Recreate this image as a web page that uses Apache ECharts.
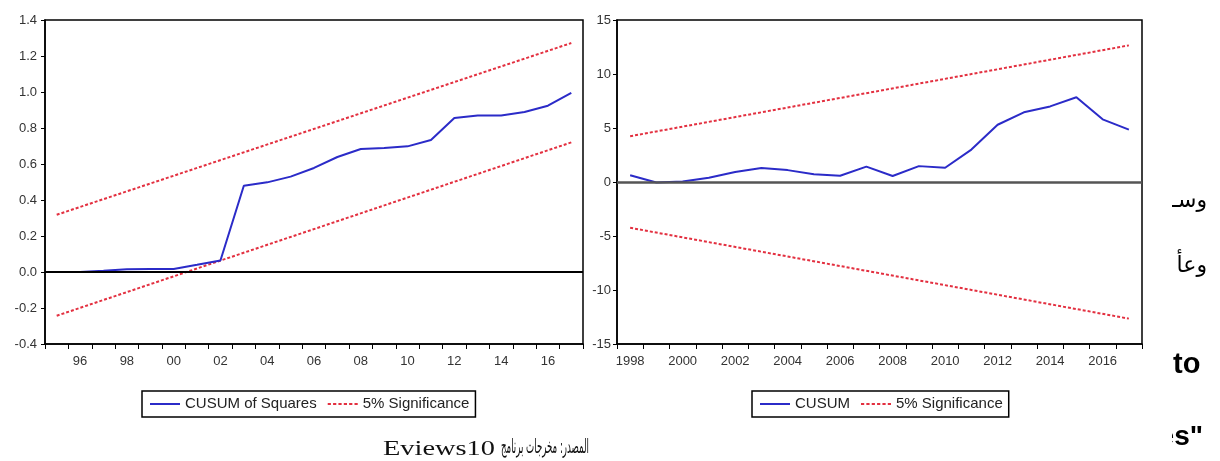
<!DOCTYPE html>
<html><head><meta charset="utf-8">
<script src="https://cdn.jsdelivr.net/npm/echarts@6.0.0/dist/echarts.min.js"></script>
<style>html,body{margin:0;padding:0;background:#fff}#c{width:1220px;height:461px}</style>
</head><body><div id="c"></div><script>
// ---- data ----
const sqYears = ['95','96','97','98','99','00','01','02','03','04','05','06','07','08','09','10','11','12','13','14','15','16','17'];
const cusumSq = [0.0,0.0,0.007,0.015,0.016,0.017,0.04,0.064,0.479,0.498,0.53,0.578,0.639,0.683,0.689,0.698,0.733,0.855,0.87,0.87,0.889,0.924,0.995];
const sqUpper = [0.318,null,null,null,null,null,null,null,null,null,null,null,null,null,null,null,null,null,null,null,null,null,1.272];
const sqLower = [-0.243,null,null,null,null,null,null,null,null,null,null,null,null,null,null,null,null,null,null,null,null,null,0.72];

const cuYears = ['1998','1999','2000','2001','2002','2003','2004','2005','2006','2007','2008','2009','2010','2011','2012','2013','2014','2015','2016','2017'];
const cusum = [0.62,-0.05,0.05,0.4,0.92,1.3,1.1,0.71,0.58,1.42,0.55,1.47,1.32,3.0,5.3,6.45,7.0,7.85,5.8,4.85];
const cuUpper = [4.24,null,null,null,null,null,null,null,null,null,null,null,null,null,null,null,null,null,null,12.65];
const cuLower = [-4.24,null,null,null,null,null,null,null,null,null,null,null,null,null,null,null,null,null,null,-12.65];

const sqTicks = {min:-0.4, max:1.4, interval:0.2};
const cuTicks = {min:-15, max:15, interval:5};

// ---- styles ----
const BLUE = '#2b2bc8', RED = '#e33040';
const labelFont = {fontFamily:'Liberation Sans', fontSize:13, color:'#333'};
const ICON_SOLID = 'path://M0,0h30v2h-30z';
const ICON_DASH = 'path://M0,0h3v2h-3z M5,0h3v2h-3z M10,0h3v2h-3z M15,0h3v2h-3z M20,0h3v2h-3z M25,0h3v2h-3z';

function fitScale(text, font, target){
  const ctx = document.createElement('canvas').getContext('2d');
  ctx.font = font;
  const w = ctx.measureText(text).width;
  return w > 0 ? target / w : 1;
}

const chart = echarts.init(document.getElementById('c'));
const capFontE = '22px "Liberation Serif"';
const capFontA = '20px "DejaVu Sans"';
const capA = 'المصدر: مخرجات برنامج';

const xAxisBase = {
  type:'category', boundaryGap:true,
  axisLine:{show:true, onZero:false, lineStyle:{color:'#000', width:1.5}},
  axisTick:{show:true, interval:0, length:5, lineStyle:{color:'#000', width:1}},
  splitLine:{show:false}
};
const yAxisBase = {
  type:'value',
  axisLine:{show:true, onZero:false, lineStyle:{color:'#000', width:1.5}},
  axisTick:{show:true, length:4, lineStyle:{color:'#000'}},
  splitLine:{show:false}
};
const zeroLine = (color, width) => ({
  silent:true, symbol:['none','none'], label:{show:false},
  lineStyle:{color:color, width:width, type:'solid'},
  emphasis:{disabled:true},
  data:[{yAxis:0}]
});
const legendBase = {
  orient:'horizontal', top:391, borderColor:'#000', borderWidth:1.5,
  padding:[5,6,5,8], itemGap:11, itemWidth:30, itemHeight:2,
  symbolKeepAspect:false, selectedMode:false,
  textStyle:{fontFamily:'Liberation Sans', fontSize:15, color:'#222', lineHeight:16}
};

chart.setOption({
  animation:false,
  backgroundColor:'#fff',
  grid:[
    {left:45, top:20, width:538, height:324, show:true, borderColor:'#000', borderWidth:1.5, backgroundColor:'transparent'},
    {left:617, top:20, width:525, height:324, show:true, borderColor:'#000', borderWidth:1.5, backgroundColor:'transparent'}
  ],
  xAxis:[
    Object.assign({}, xAxisBase, {gridIndex:0, data:sqYears,
      axisLabel:Object.assign({margin:11, interval:(i)=> i%2===1}, labelFont)}),
    Object.assign({}, xAxisBase, {gridIndex:1, data:cuYears,
      axisLabel:Object.assign({margin:11, interval:(i)=> i%2===0}, labelFont)})
  ],
  yAxis:[
    Object.assign({}, yAxisBase, {gridIndex:0, min:sqTicks.min, max:sqTicks.max, interval:sqTicks.interval,
      axisLabel:Object.assign({margin:8, formatter:(v)=>v.toFixed(1)}, labelFont)}),
    Object.assign({}, yAxisBase, {gridIndex:1, min:cuTicks.min, max:cuTicks.max, interval:cuTicks.interval,
      axisLabel:Object.assign({margin:6}, labelFont)})
  ],
  legend:[
    Object.assign({}, legendBase, {left:142, data:[
      {name:'CUSUM of Squares', icon:ICON_SOLID, itemStyle:{color:BLUE}},
      {name:'5% Significance', icon:ICON_DASH, itemStyle:{color:RED}}]}),
    Object.assign({}, legendBase, {left:752, data:[
      {name:'CUSUM', icon:ICON_SOLID, itemStyle:{color:BLUE}},
      {name:'5% Significance', icon:ICON_DASH, itemStyle:{color:RED}}]})
  ],
  series:[
    {name:'CUSUM of Squares', type:'line', xAxisIndex:0, yAxisIndex:0, data:cusumSq, symbol:'none',
      lineStyle:{color:BLUE, width:2}, itemStyle:{color:BLUE}, markLine:zeroLine('#000',2), z:3},
    {name:'5% Significance', type:'line', xAxisIndex:0, yAxisIndex:0, data:sqUpper, symbol:'none', connectNulls:true,
      lineStyle:{color:RED, width:2, type:[3,2]}, itemStyle:{color:RED}, z:2},
    {name:'5% Significance', type:'line', xAxisIndex:0, yAxisIndex:0, data:sqLower, symbol:'none', connectNulls:true,
      lineStyle:{color:RED, width:2, type:[3,2]}, itemStyle:{color:RED}, z:2},
    {name:'CUSUM', type:'line', xAxisIndex:1, yAxisIndex:1, data:cusum, symbol:'none',
      lineStyle:{color:BLUE, width:2}, itemStyle:{color:BLUE}, markLine:zeroLine('#555',2.5), z:3},
    {name:'5% Significance', type:'line', xAxisIndex:1, yAxisIndex:1, data:cuUpper, symbol:'none', connectNulls:true,
      lineStyle:{color:RED, width:2, type:[3,2]}, itemStyle:{color:RED}, z:2},
    {name:'5% Significance', type:'line', xAxisIndex:1, yAxisIndex:1, data:cuLower, symbol:'none', connectNulls:true,
      lineStyle:{color:RED, width:2, type:[3,2]}, itemStyle:{color:RED}, z:2}
  ],
  graphic:[
    {type:'text', x:383, y:449, z:100, scaleX:fitScale('Eviews10', capFontE, 112),
      style:{text:'Eviews10', font:capFontE, fill:'#111', align:'left', verticalAlign:'middle'}},
    {type:'text', x:589, y:448, z:100, scaleX:fitScale(capA, capFontA, 88),
      style:{text:capA, font:capFontA, fill:'#111', align:'right', verticalAlign:'middle'}},
    {type:'text', x:1207, y:201, z:100,
      style:{text:'وسـ', font:'22px "DejaVu Sans"', fill:'#000', align:'right', verticalAlign:'middle'}},
    {type:'text', x:1207, y:266, z:100,
      style:{text:'وعأ', font:'22px "DejaVu Sans"', fill:'#000', align:'right', verticalAlign:'middle'}},
    {type:'text', x:1173, y:365, z:100,
      style:{text:'to', font:'bold 29px "Liberation Sans"', fill:'#000', align:'left', verticalAlign:'middle'}},
    {type:'text', x:1203, y:437, z:100,
      style:{text:'es"', font:'bold 28px "Liberation Sans"', fill:'#000', align:'right', verticalAlign:'middle'}},
    {type:'rect', z:101, shape:{x:1146, y:180, width:26, height:281}, style:{fill:'#fff'}}
  ]
});
</script></body></html>
